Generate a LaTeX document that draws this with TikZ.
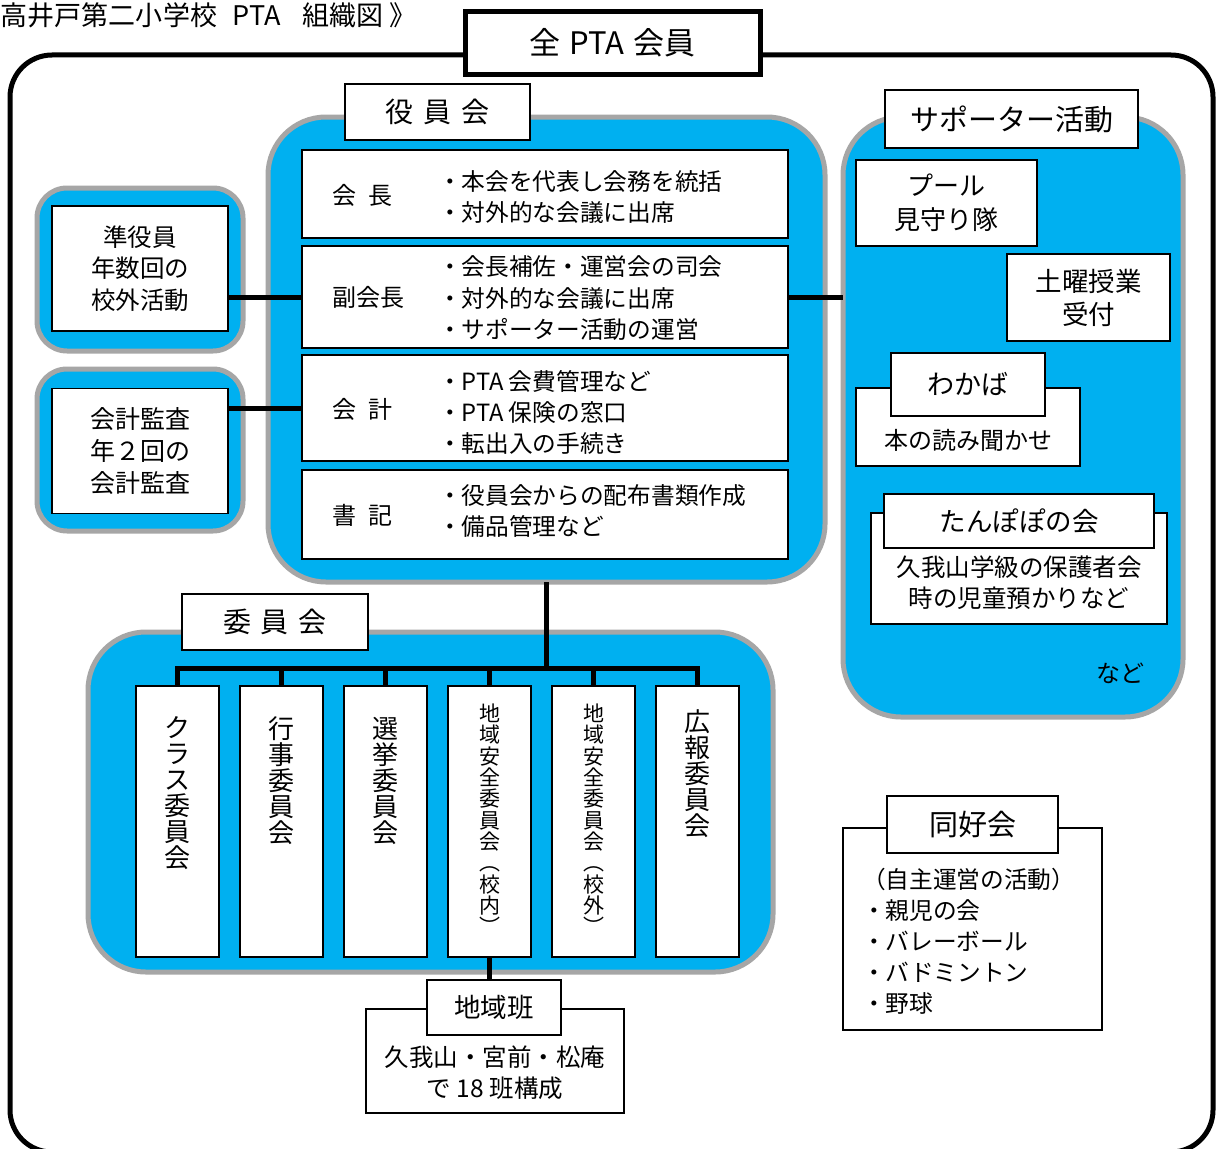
\documentclass[tikz,border=0pt]{standalone}
\usepackage{fontspec}
\setmainfont{Noto Sans CJK JP}
\newcommand{\myfs}[2]{\fontsize{#1}{#2}\selectfont}
\definecolor{regblue}{HTML}{00B0F0}
\definecolor{reggray}{HTML}{A6A6A6}
\tikzset{
  region/.style={fill=regblue, draw=reggray, line width=5pt, rounded corners=#1, inner sep=0pt, outer sep=0pt},
  region/.default=58pt,
  wbox/.style={draw=black, fill=white, line width=1.3pt, inner sep=0pt, outer sep=0pt, align=center},
  conn/.style={line width=5pt, draw=black},
  txt/.style={inner sep=0pt, outer sep=0pt, align=center},
}
\begin{document}
\begin{tikzpicture}[x=1pt,y=-1pt]
\useasboundingbox[fill=white] (0,0) rectangle (1217,1148);

% title
\node[txt, anchor=west, font={\myfs{27}{30}}] (title) at (1,15) {高井戸第二小学校\hspace{16pt}PTA\hspace{22pt}組織図\hspace{6pt}》};

% outer frame
\draw[line width=5pt, rounded corners=42pt] (10,55) rectangle (1213,1152);

% regions
\node[region=30pt, minimum width=206pt, minimum height=163pt] (junreg) at (140,269.5) {};
\node[region=30pt, minimum width=206pt, minimum height=162pt] (kanreg) at (140,450) {};
\node[region, minimum width=557pt, minimum height=465pt] (yakreg) at (546.5,349.5) {};
\node[region, minimum width=340pt, minimum height=600pt] (supreg) at (1013,417) {};
\node[region, minimum width=685pt, minimum height=340pt] (iinreg) at (430.5,802) {};

% top box
\node[wbox, line width=5pt, minimum width=295pt, minimum height=62pt, font={\myfs{31}{34}}] (zen) at (612.5,43) {全\hspace{0.3em}PTA\hspace{0.3em}会員};

% yakuinkai
\node[wbox, minimum width=185pt, minimum height=56pt, font={\myfs{28}{30}}] (yakL) at (437.5,112) {役\hspace{10pt}員\hspace{10pt}会};
\node[wbox, minimum width=486pt, minimum height=88pt] (kaicho) at (545,194) {};
\node[wbox, minimum width=486pt, minimum height=102pt] (fuku) at (545,297) {};
\node[wbox, minimum width=486pt, minimum height=106pt] (kaikei) at (545,408) {};
\node[wbox, minimum width=486pt, minimum height=89pt] (shoki) at (545,514.5) {};

\node[txt, anchor=west, font={\myfs{24}{28}}] (kaichoL) at (332,195) {会\enspace 長};
\node[txt, anchor=west, font={\myfs{24}{28}}] (fukuL) at (332,297) {副会長};
\node[txt, anchor=west, font={\myfs{24}{28}}] (kaikeiL) at (332,409) {会\enspace 計};
\node[txt, anchor=west, font={\myfs{24}{28}}] (shokiL) at (332,515) {書\enspace 記};

\node[txt, anchor=west, align=left, font={\myfs{23.7}{31}}] (kaichoB) at (438,197.5) {・本会を代表し会務を統括\\・対外的な会議に出席};
\node[txt, anchor=west, align=left, font={\myfs{23.7}{31.5}}] (fukuB) at (438,298.5) {・会長補佐・運営会の司会\\・対外的な会議に出席\\・サポーター活動の運営};
\node[txt, anchor=west, align=left, font={\myfs{23.7}{31}}] (kaikeiB) at (438,412) {・PTA 会費管理など\\・PTA 保険の窓口\\・転出入の手続き};
\node[txt, anchor=west, align=left, font={\myfs{23.7}{31}}] (shokiB) at (438,510.5) {・役員会からの配布書類作成\\・備品管理など};

% left boxes
\node[wbox, minimum width=176pt, minimum height=125pt, font={\myfs{24.5}{31.5}}] (jun) at (140,268.5) {準役員\\年数回の\\校外活動};
\node[wbox, minimum width=176pt, minimum height=125pt, font={\myfs{25}{32}}] (kansa) at (140,451) {会計監査\\年２回の\\会計監査};

\draw[conn] (jun.east |- fuku.west) -- (fuku.west);
\draw[conn] (kansa.east |- kaikei.west) -- (kaikei.west);
\draw[conn] (fuku.east) -- (fuku.east -| supreg.west);

% supporter
\node[wbox, minimum width=253pt, minimum height=58pt, font={\myfs{29}{32}}] (supL) at (1011.5,119) {サポーター活動};
\node[wbox, minimum width=181pt, minimum height=86pt, font={\myfs{26}{34}}] (pool) at (946.5,203) {プール\\見守り隊};
\node[wbox, minimum width=163pt, minimum height=87pt, font={\myfs{26.5}{33}}] (doyo) at (1088.5,297.5) {土曜授業\\受付};
\node[wbox, minimum width=224pt, minimum height=78pt] (wakaO) at (968,427) {};
\node[wbox, minimum width=154pt, minimum height=63pt, font={\myfs{27}{30}}] (wakaH) at (968,384.5) {わかば};
\node[txt, font={\myfs{24}{27}}] (wakaT) at (968,440) {本の読み聞かせ};
\node[wbox, minimum width=296pt, minimum height=111pt] (tanO) at (1019,568.5) {};
\node[wbox, minimum width=270pt, minimum height=54pt, font={\myfs{26.5}{30}}] (tanH) at (1019,521) {たんぽぽの会};
\node[txt, font={\myfs{24.5}{31}}] (tanT) at (1019,582.5) {久我山学級の保護者会\\時の児童預かりなど};
\node[txt, font={\myfs{24}{27}}] (nado) at (1120,673) {など};

% iinkai
\node[wbox, minimum width=186pt, minimum height=56pt, font={\myfs{28}{30}}] (iinL) at (275,622) {委\hspace{10pt}員\hspace{10pt}会};
\foreach \n/\x in {c1/177.5, c2/281.5, c3/385.5, c4/489.5, c5/593.5, c6/697.5}
  \node[wbox, minimum width=83pt, minimum height=271pt] (\n) at (\x,821.5) {};

\node[txt, anchor=north, font={\myfs{26}{26}}] (t1) at ([yshift=-31pt]c1.north) {ク\\ラ\\ス\\委\\員\\会};
\node[txt, anchor=north, font={\myfs{26}{26}}] (t2) at ([yshift=-31pt]c2.north) {行\\事\\委\\員\\会};
\node[txt, anchor=north, font={\myfs{26}{26}}] (t3) at ([yshift=-31pt]c3.north) {選\\挙\\委\\員\\会};
\node[txt, anchor=north, font={\myfs{21}{21.3}}] (t4) at ([yshift=-18pt]c4.north) {地\\域\\安\\全\\委\\員\\会\\︵\\校\\内\\︶};
\node[txt, anchor=north, font={\myfs{21}{21.3}}] (t5) at ([yshift=-18pt]c5.north) {地\\域\\安\\全\\委\\員\\会\\︵\\校\\外\\︶};
\node[txt, anchor=north, font={\myfs{26}{26}}] (t6) at ([yshift=-24pt]c6.north) {広\\報\\委\\員\\会};

\coordinate (bar) at (546.5,668);
\draw[conn] (yakreg.south) -- (bar);
\draw[conn, line join=miter] (c1.north) -- (c1.north |- bar) -- (c6.north |- bar) -- (c6.north);
\foreach \n in {c2,c3,c4,c5} \draw[conn] (\n.north) -- (\n.north |- bar);

% chiikihan
\node[wbox, minimum width=258pt, minimum height=104pt] (chiO) at (495,1061) {};
\node[wbox, minimum width=134pt, minimum height=55pt, font={\myfs{26.5}{30}}] (chiH) at (494,1007.5) {地域班};
\node[txt, font={\myfs{24.5}{31}}] (chiT) at (495,1072.5) {久我山・宮前・松庵\\で 18 班構成};
\draw[conn] (c4.south) -- (c4.south |- chiH.north);

% doukoukai
\node[wbox, minimum width=259pt, minimum height=202pt] (doO) at (972.5,929) {};
\node[wbox, minimum width=171pt, minimum height=57pt, font={\myfs{29}{32}}] (doH) at (972.5,824.5) {同好会};
\node[txt, anchor=north west, align=left, font={\myfs{23.7}{31}}] (doT) at (862,868) {（自主運営の活動）\\・親児の会\\・バレーボール\\・バドミントン\\・野球};
\end{tikzpicture}
\end{document}
